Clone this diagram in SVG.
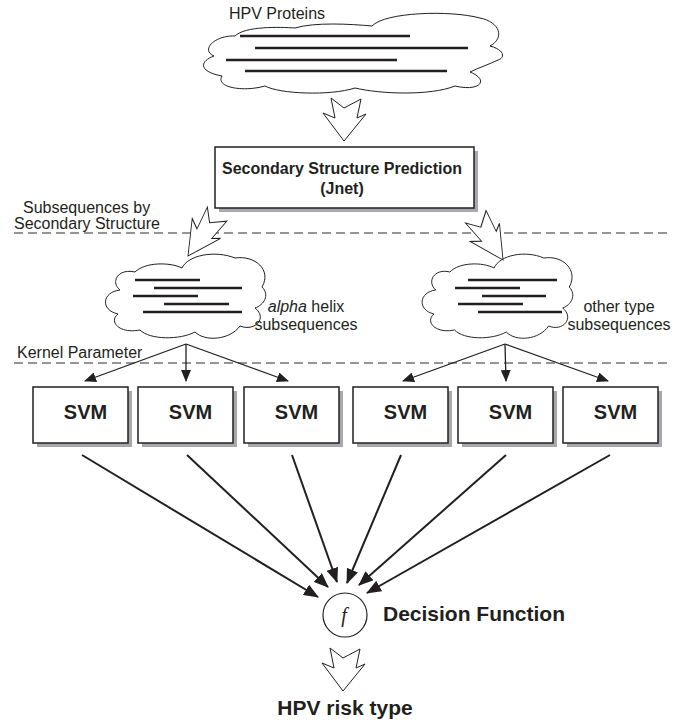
<svg xmlns="http://www.w3.org/2000/svg" width="684" height="722" viewBox="0 0 684 722">
<style>
text{font-family:"Liberation Sans",Arial,sans-serif;fill:#231f20}
.lbl{font-size:16px}
.bold{font-weight:bold}
.cloud{fill:#fff;stroke:#231f20;stroke-width:1}
.seq{stroke:#231f20;stroke-width:2.4}
.box{fill:#fff;stroke:#231f20;stroke-width:1.5}
.shadow{fill:#a7a9ac}
.big{fill:#fff;stroke:#231f20;stroke-width:1}
.dash{stroke:#939598;stroke-width:2;stroke-dasharray:9 5}
.fan{stroke:#231f20;stroke-width:1.3;fill:none}
.conv{stroke:#231f20;stroke-width:2;fill:none}
</style>
<defs>
<marker id="ah" markerWidth="12" markerHeight="10" refX="11" refY="5" orient="auto" markerUnits="userSpaceOnUse">
<path d="M0,0 L12,5 L0,10 Z" fill="#231f20"/>
</marker>
<marker id="ah2" markerWidth="15" markerHeight="12" refX="14" refY="6" orient="auto" markerUnits="userSpaceOnUse">
<path d="M0,0 L15,6 L0,12 Z" fill="#231f20"/>
</marker>
<polygon id="bigarrow" points="-13,-43 0,-33 17,-42 13,-23 22,-27 0,0 -21,-28 -9,-23"/>
<path id="smallcloud" d="M120,290 C110,282 118,268 135,272 C145,262 170,262 182,268 C188,255 215,250 235,258 C255,255 272,270 262,287 C270,295 264,305 255,308 C268,318 255,332 240,326 C230,340 205,342 195,332 C180,340 150,340 140,330 C120,334 108,322 118,314 C100,310 102,292 120,290 Z"/>
</defs>

<g id="guides">
<line class="dash" x1="14" y1="233" x2="672" y2="233"/>
<line class="dash" x1="14" y1="363" x2="672" y2="363"/>
<text class="lbl" x="23" y="213">Subsequences by</text>
<text class="lbl" x="14" y="229">Secondary Structure</text>
<text class="lbl" x="17" y="358">Kernel Parameter</text>
</g>

<g id="hpv-proteins">
<text class="lbl" x="229" y="19">HPV Proteins</text>
<path class="cloud" d="M214,56 C200,50 215,35 235,36 C245,26 280,27 295,28 C315,22 350,24 372,26 C385,12 450,10 480,18 C500,22 505,38 490,46 C505,50 505,58 498,60 C490,64 478,68 470,72 C490,80 480,92 455,86 C430,96 380,94 355,88 C330,96 280,94 265,86 C245,92 215,88 222,76 C200,72 198,62 214,56 Z"/>
<line class="seq" x1="240" y1="36" x2="410" y2="36"/>
<line class="seq" x1="255" y1="48" x2="468" y2="48"/>
<line class="seq" x1="226" y1="60" x2="397" y2="60"/>
<line class="seq" x1="245" y1="71" x2="447" y2="71"/>
</g>

<g id="ssp">
<rect class="shadow" x="219" y="151" width="259" height="61"/>
<rect class="box" x="215" y="147" width="259" height="61"/>
<text class="bold" x="342" y="174" font-size="16" text-anchor="middle">Secondary Structure Prediction</text>
<text class="bold" x="342" y="194" font-size="16" text-anchor="middle">(Jnet)</text>
</g>

<g id="alpha-cloud">
<use href="#smallcloud" class="cloud"/>
<line class="seq" x1="135" y1="280" x2="200" y2="280"/>
<line class="seq" x1="154" y1="288" x2="242" y2="288"/>
<line class="seq" x1="133" y1="296" x2="198" y2="296"/>
<line class="seq" x1="164" y1="304" x2="229" y2="304"/>
<line class="seq" x1="143" y1="312" x2="242" y2="312"/>
<text class="lbl" x="306" y="312" text-anchor="middle"><tspan font-style="italic">alpha</tspan> helix</text>
<text class="lbl" x="306" y="330" text-anchor="middle">subsequences</text>
</g>

<g id="other-cloud">
<use href="#smallcloud" class="cloud" transform="translate(323,0) scale(0.94,1)"/>
<line class="seq" x1="468" y1="280" x2="557" y2="280"/>
<line class="seq" x1="455" y1="288" x2="520" y2="288"/>
<line class="seq" x1="482" y1="296" x2="546" y2="296"/>
<line class="seq" x1="458" y1="304" x2="523" y2="304"/>
<line class="seq" x1="478" y1="312" x2="562" y2="312"/>
<text class="lbl" x="619" y="312" text-anchor="middle">other type</text>
<text class="lbl" x="619" y="330" text-anchor="middle">subsequences</text>
</g>

<g id="svm1"><rect class="shadow" x="37" y="391" width="95" height="56"/><rect class="box" x="33" y="387" width="95" height="56"/><text class="bold" x="85.5" y="419" font-size="20" text-anchor="middle">SVM</text></g>
<g id="svm2"><rect class="shadow" x="142" y="391" width="95" height="56"/><rect class="box" x="138" y="387" width="95" height="56"/><text class="bold" x="190.5" y="419" font-size="20" text-anchor="middle">SVM</text></g>
<g id="svm3"><rect class="shadow" x="248" y="391" width="95" height="56"/><rect class="box" x="244" y="387" width="95" height="56"/><text class="bold" x="296.5" y="419" font-size="20" text-anchor="middle">SVM</text></g>
<g id="svm4"><rect class="shadow" x="357" y="391" width="95" height="56"/><rect class="box" x="353" y="387" width="95" height="56"/><text class="bold" x="405.5" y="419" font-size="20" text-anchor="middle">SVM</text></g>
<g id="svm5"><rect class="shadow" x="462" y="391" width="95" height="56"/><rect class="box" x="458" y="387" width="95" height="56"/><text class="bold" x="510.5" y="419" font-size="20" text-anchor="middle">SVM</text></g>
<g id="svm6"><rect class="shadow" x="567" y="391" width="95" height="56"/><rect class="box" x="563" y="387" width="95" height="56"/><text class="bold" x="615.5" y="419" font-size="20" text-anchor="middle">SVM</text></g>

<g id="decision">
<circle cx="345" cy="615" r="22" fill="#fff" stroke="#231f20" stroke-width="1.2"/>
<text x="344" y="622" font-size="20" font-style="italic" text-anchor="middle" style="font-family:'Liberation Serif','Times New Roman',serif">f</text>
<text class="bold" x="383" y="621" font-size="21">Decision Function</text>
</g>

<g id="result">
<text class="bold" x="345" y="715" font-size="21" text-anchor="middle">HPV risk type</text>
</g>

<g id="connectors">
<use href="#bigarrow" class="big" transform="translate(344,141)"/>
<use href="#bigarrow" class="big" transform="translate(188,256) rotate(33) scale(0.8,1.2)"/>
<use href="#bigarrow" class="big" transform="translate(503,260) rotate(-34) scale(0.8,1.2)"/>
<use href="#bigarrow" class="big" transform="translate(343,691)"/>
<line class="fan" x1="186" y1="344" x2="85" y2="381" marker-end="url(#ah)"/>
<line class="fan" x1="186" y1="344" x2="186" y2="381" marker-end="url(#ah)"/>
<line class="fan" x1="186" y1="344" x2="288" y2="381" marker-end="url(#ah)"/>
<line class="fan" x1="505" y1="344" x2="403" y2="381" marker-end="url(#ah)"/>
<line class="fan" x1="505" y1="344" x2="506" y2="381" marker-end="url(#ah)"/>
<line class="fan" x1="505" y1="344" x2="608" y2="381" marker-end="url(#ah)"/>
<line class="conv" x1="82" y1="455" x2="318" y2="597" marker-end="url(#ah2)"/>
<line class="conv" x1="187" y1="455" x2="328" y2="587" marker-end="url(#ah2)"/>
<line class="conv" x1="292" y1="455" x2="337" y2="582" marker-end="url(#ah2)"/>
<line class="conv" x1="401" y1="455" x2="347" y2="583" marker-end="url(#ah2)"/>
<line class="conv" x1="506" y1="455" x2="359" y2="585" marker-end="url(#ah2)"/>
<line class="conv" x1="610" y1="455" x2="367" y2="593" marker-end="url(#ah2)"/>
</g>
</svg>
